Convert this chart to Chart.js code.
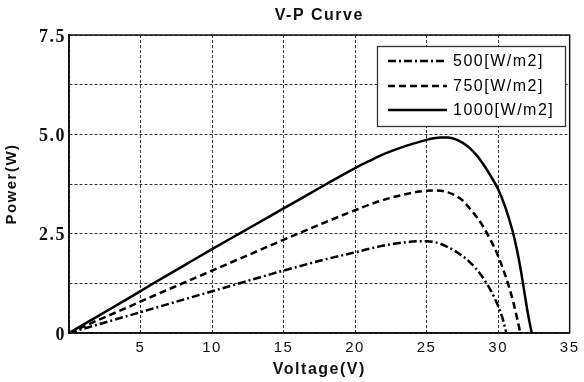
<!DOCTYPE html>
<html><head><meta charset="utf-8">
<script src="https://cdn.jsdelivr.net/npm/chart.js@4"></script>
<style>html,body{margin:0;padding:0;background:#fff;}#wrap{width:584px;height:382px;}</style>
</head><body><div id="wrap"><canvas id="c" width="584" height="382"></canvas></div>
<script>
const chartTitle = 'V-P Curve';
const xAxisTitle = 'Voltage(V)';
const yAxisTitle = 'Power(W)';
const seriesLabels = ['500[W/m2]', '750[W/m2]', '1000[W/m2]'];

const v500 = [0, 2, 4, 6, 8, 10, 12, 14, 16, 18, 20, 21, 22, 23, 24, 24.5, 25, 25.5, 26, 26.5, 27, 27.5, 28, 28.5, 29, 29.5, 30, 30.3, 30.57];
const p500 = [0, 0.21, 0.42, 0.63, 0.84, 1.05, 1.26, 1.47, 1.67, 1.86, 2.03, 2.12, 2.20, 2.26, 2.30, 2.31, 2.31, 2.29, 2.24, 2.16, 2.06, 1.94, 1.79, 1.60, 1.36, 1.06, 0.68, 0.38, 0];

const v750 = [0, 2, 4, 6, 8, 10, 12, 14, 16, 18, 20, 21, 22, 23, 24, 24.5, 25, 25.5, 26, 26.5, 27, 27.5, 28, 28.5, 29, 29.5, 30, 30.5, 30.8, 31.1, 31.35, 31.55];
const p750 = [0, 0.32, 0.63, 0.95, 1.26, 1.57, 1.88, 2.19, 2.50, 2.80, 3.09, 3.23, 3.35, 3.45, 3.53, 3.56, 3.58, 3.585, 3.58, 3.54, 3.46, 3.34, 3.14, 2.92, 2.65, 2.32, 1.94, 1.45, 1.12, 0.72, 0.33, 0];

const v1000 = [0, 2, 4, 6, 8, 10, 12, 14, 16, 18, 20, 21, 22, 23, 24, 25, 25.5, 26, 26.5, 27, 27.5, 28, 28.5, 29, 29.5, 30, 30.5, 31, 31.3, 31.6, 31.9, 32.1, 32.35];
const p1000 = [0, 0.42, 0.84, 1.27, 1.69, 2.11, 2.52, 2.93, 3.34, 3.75, 4.15, 4.33, 4.50, 4.64, 4.76, 4.86, 4.90, 4.92, 4.92, 4.88, 4.79, 4.66, 4.47, 4.23, 3.94, 3.62, 3.17, 2.58, 2.12, 1.55, 0.88, 0.45, 0];

const xTickValues = [5, 10, 15, 20, 25, 30, 35];
const xTickText = ['5', '10', '15', '20', '25', '30', '35'];
const yTickValues = [0, 2.5, 5, 7.5];
const yTickText = ['0', '2.5', '5.0', '7.5'];

const dashPatterns = [[8, 3, 2, 3], [7, 4], []];

function toPoints(vs, ps) { return vs.map((v, i) => ({ x: v, y: ps[i] })); }

const seriesData = [toPoints(v500, p500), toPoints(v750, p750), toPoints(v1000, p1000)];

const datasets = seriesData.map((d, i) => ({
  label: seriesLabels[i],
  data: d,
  borderColor: '#000',
  borderWidth: 2.5,
  borderDash: dashPatterns[i],
  pointRadius: 0,
  fill: false,
  cubicInterpolationMode: 'monotone'
}));

const decorPlugin = {
  id: 'decor',
  beforeDraw(chart) {
    try { chart.ctx.letterSpacing = '1.5px'; } catch (e) {}
  },
  afterDraw(chart) {
    const ctx = chart.ctx;
    const a = chart.chartArea;
    ctx.save();
    ctx.strokeStyle = '#111';
    ctx.lineWidth = 1.5;
    ctx.setLineDash([]);
    ctx.strokeRect(a.left, a.top, a.right - a.left, a.bottom - a.top);
    ctx.fillStyle = '#111';
    ctx.font = 'bold 16px "Liberation Sans", Arial, sans-serif';
    try { ctx.letterSpacing = '1.5px'; } catch (e) {}
    ctx.textAlign = 'center';
    ctx.textBaseline = 'middle';
    ctx.fillText(chartTitle, (a.left + a.right) / 2, 16);
    const bx = 377.5, by = 46.5, bw = 188, bh = 80;
    ctx.fillStyle = '#fff';
    ctx.fillRect(bx, by, bw, bh);
    ctx.strokeStyle = '#333';
    ctx.lineWidth = 1.3;
    ctx.strokeRect(bx, by, bw, bh);
    const rows = [61, 86, 110];
    chart.data.datasets.forEach((ds, i) => {
      const y = rows[i];
      ctx.beginPath();
      ctx.strokeStyle = '#000';
      ctx.lineWidth = 2.5;
      ctx.setLineDash(ds.borderDash || []);
      ctx.moveTo(388, y);
      ctx.lineTo(447, y);
      ctx.stroke();
      ctx.setLineDash([]);
      ctx.fillStyle = '#000';
      ctx.font = '16px "Liberation Sans", Arial, sans-serif';
      ctx.textAlign = 'left';
      ctx.textBaseline = 'middle';
      ctx.fillText(ds.label, 453, y + 1);
    });
    ctx.restore();
  }
};

new Chart(document.getElementById('c'), {
  type: 'line',
  data: { datasets },
  plugins: [decorPlugin],
  options: {
    responsive: false,
    devicePixelRatio: 1,
    animation: false,
    layout: { padding: { top: 35, right: 10, left: 0, bottom: 0 } },
    plugins: { legend: { display: false }, title: { display: false }, tooltip: { enabled: false } },
    scales: {
      x: {
        type: 'linear',
        min: 0, max: 35,
        afterFit(s) { s.height = 49; },
        ticks: {
          stepSize: 5,
          autoSkip: false,
          maxRotation: 0,
          padding: 6,
          color: '#111',
          font: { family: '"Liberation Sans", Arial, sans-serif', size: 15 },
          callback: (v) => { const i = xTickValues.indexOf(v); return i >= 0 ? xTickText[i] : ''; }
        },
        grid: { color: '#333', lineWidth: 1, drawTicks: false },
        border: { display: true, color: '#111', width: 1.5, dash: [3, 2] },
        title: {
          display: true, text: xAxisTitle, color: '#111',
          font: { family: '"Liberation Sans", Arial, sans-serif', size: 16, weight: 'bold' },
          padding: { top: 3, bottom: 3 }
        }
      },
      y: {
        type: 'linear',
        min: 0, max: 7.5,
        afterFit(s) { s.width = 69; },
        ticks: {
          stepSize: 1.25,
          autoSkip: false,
          padding: 3,
          labelOffset: 2,
          color: '#111',
          font: { family: '"Liberation Serif", "Times New Roman", serif', size: 18, weight: 'bold' },
          callback: (v) => { const i = yTickValues.indexOf(v); return i >= 0 ? yTickText[i] : ''; }
        },
        grid: { color: '#333', lineWidth: 1, drawTicks: false },
        border: { display: true, color: '#111', width: 1.5, dash: [3, 2] },
        title: {
          display: true, text: yAxisTitle, color: '#111',
          font: { family: '"Liberation Sans", Arial, sans-serif', size: 15, weight: 'bold' },
          padding: { top: 3, bottom: 3 }
        }
      }
    }
  }
});
</script>
</body></html>
